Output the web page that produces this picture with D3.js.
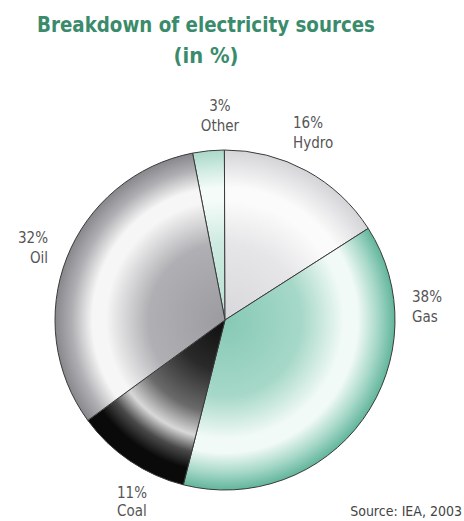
<!DOCTYPE html>
<html>
<head>
<meta charset="utf-8">
<script src="https://cdn.jsdelivr.net/npm/d3@7"></script>
<style>
  body { margin: 0; background: #fff; }
  svg { display: block; }
</style>
</head>
<body>
<div id="chart"></div>
<script>
const width = 464;
const height = 521;

// data
const sources = ["Other", "Hydro", "Gas", "Coal", "Oil"];
const shares = [3, 16, 38, 11, 32];
const labelText = ["3%", "16%", "38%", "11%", "32%"];

// look of each slice: [centre, mid, highlight, edge]
const sliceColors = {
  Other: ["#b8e0d2", "#cdeae0", "#f4fbf8", "#a9d8c7"],
  Hydro: ["#d8d8dc", "#e6e6e8", "#fbfbfb", "#d4d4d8"],
  Gas: ["#86c9b4", "#a6d8c8", "#f2faf7", "#62b59c"],
  Coal: ["#0e0e0e", "#6a6a6a", "#d8d8d8", "#0a0a0a"],
  Oil: ["#9c9ca0", "#b0b0b4", "#f6f6f6", "#88888c"],
};

const cx = 225;
const cy = 320;
const radius = 170;

const svg = d3
  .select("#chart")
  .append("svg")
  .attr("width", width)
  .attr("height", height);

// title
const titleColor = "#3a8b6c";
svg.append("text")
  .attr("x", 206).attr("y", 32)
  .attr("text-anchor", "middle")
  .attr("font-family", "'DejaVu Sans Condensed', 'DejaVu Sans', sans-serif")
  .attr("font-weight", "bold")
  .attr("font-size", 22)
  .attr("fill", titleColor)
  .attr("textLength", 338)
  .attr("lengthAdjust", "spacingAndGlyphs")
  .text("Breakdown of electricity sources");

svg.append("text")
  .attr("x", 206).attr("y", 63)
  .attr("text-anchor", "middle")
  .attr("font-family", "'DejaVu Sans Condensed', 'DejaVu Sans', sans-serif")
  .attr("font-weight", "bold")
  .attr("font-size", 22)
  .attr("fill", titleColor)
  .attr("textLength", 65)
  .attr("lengthAdjust", "spacingAndGlyphs")
  .text("(in %)");

// gradients
const defs = svg.append("defs");
sources.forEach((s) => {
  const c = sliceColors[s];
  const grad = defs.append("radialGradient")
    .attr("id", "grad-" + s)
    .attr("gradientUnits", "userSpaceOnUse")
    .attr("cx", 0).attr("cy", 0).attr("r", radius);
  const stops = s === "Coal"
    ? [[0, c[0]], [0.3, "#2a2a2a"], [0.55, c[1]], [0.7, c[2]], [0.8, "#4a4a4a"], [0.9, c[3]], [1, c[3]]]
    : [[0, c[0]], [0.45, c[1]], [0.7, c[2]], [0.78, c[2]], [0.9, c[1]], [1, c[3]]];
  stops.forEach(([o, col]) => {
    grad.append("stop").attr("offset", o).attr("stop-color", col);
  });
});

// pie
const startAngle = (-11 * Math.PI) / 180;
const pie = d3.pie()
  .sort(null)
  .value((d) => d.value)
  .startAngle(startAngle)
  .endAngle(startAngle + 2 * Math.PI);

const data = sources.map((s, i) => ({ name: s, value: shares[i], label: labelText[i] }));
const arcs = pie(data);

const arc = d3.arc().innerRadius(0).outerRadius(radius);

const g = svg.append("g").attr("transform", `translate(${cx},${cy})`);

g.selectAll("path")
  .data(arcs)
  .enter()
  .append("path")
  .attr("d", arc)
  .attr("fill", (d) => `url(#grad-${d.data.name})`)
  .attr("stroke", "#3a3a3a")
  .attr("stroke-width", 1);

// label placement (x, y of first line, anchor, line gap)
const labelPos = {
  Other: [220, 111, "middle", 20],
  Hydro: [293, 128, "start", 20],
  Gas: [412, 302, "start", 20],
  Coal: [117, 498, "start", 18],
  Oil: [48, 243, "end", 20],
};

const labels = svg.selectAll("text.lbl")
  .data(arcs)
  .enter()
  .append("text")
  .attr("class", "lbl")
  .attr("font-family", "'DejaVu Sans Condensed', 'DejaVu Sans', sans-serif")
  .attr("font-size", 15)
  .attr("fill", "#555")
  .attr("text-anchor", (d) => labelPos[d.data.name][2]);

labels.append("tspan")
  .attr("x", (d) => labelPos[d.data.name][0])
  .attr("y", (d) => labelPos[d.data.name][1])
  .text((d) => d.data.label);

labels.append("tspan")
  .attr("x", (d) => labelPos[d.data.name][0])
  .attr("dy", (d) => labelPos[d.data.name][3])
  .text((d) => d.data.name);

// source note
svg.append("text")
  .attr("x", 462).attr("y", 516)
  .attr("text-anchor", "end")
  .attr("font-family", "'DejaVu Sans Condensed', 'DejaVu Sans', sans-serif")
  .attr("font-size", 14)
  .attr("fill", "#444")
  .text("Source: IEA, 2003");
</script>
</body>
</html>
